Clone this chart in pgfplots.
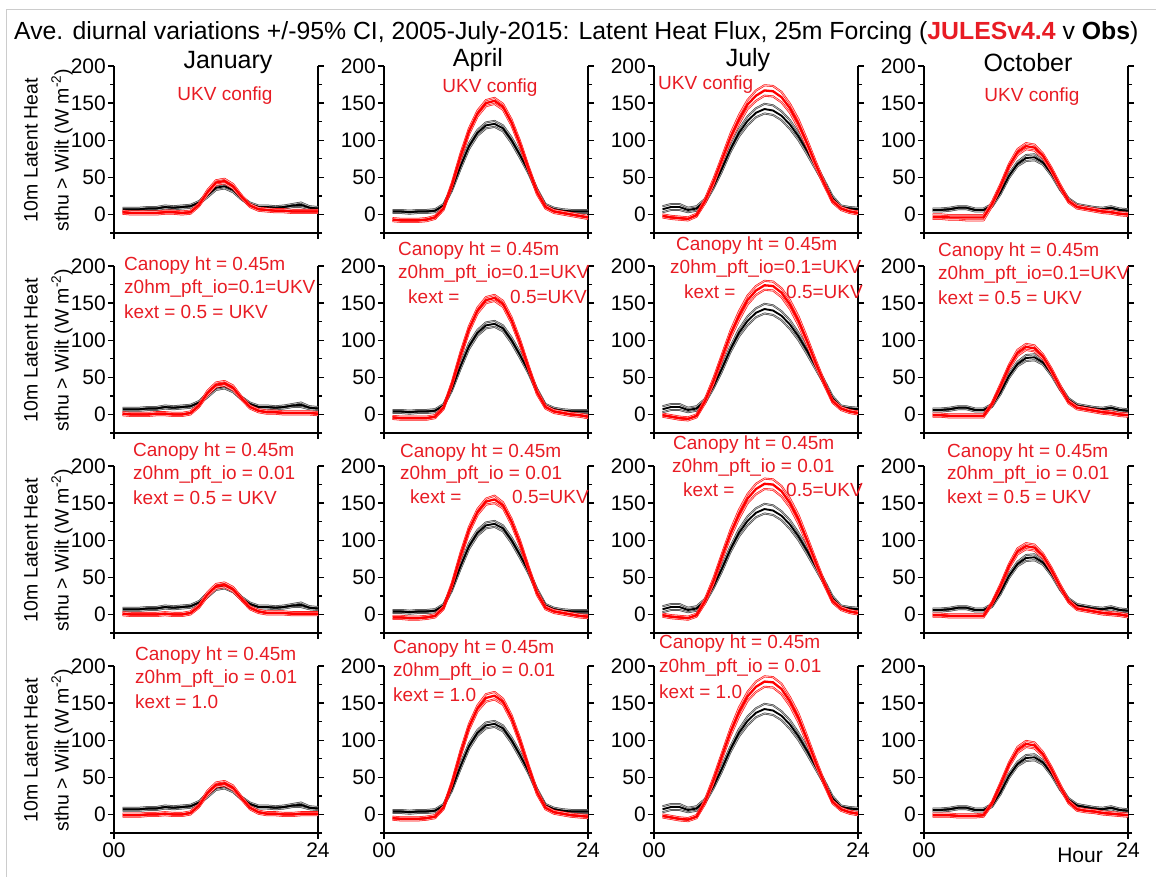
\documentclass[border=0pt]{standalone}
\usepackage{fontspec}
\setmainfont{Liberation Sans}
\usepackage{pgfplots}
\usepackage{pgfplotstable}
\pgfplotsset{compat=1.18}

\definecolor{modred}{RGB}{255,0,0}
\definecolor{txtred}{RGB}{232,28,36}

% Observed diurnal cycle (mean and 95% CI bounds), one table per month
\pgfplotstableread{
h o lo hi
1 7 5 9
2 7 5 9
3 7 5 9
4 8 6 10
5 8 6 10
6 10 8 12
7 9 7 11
8 10 8 12
9 11 9 13
10 16 14 18
11 26 23 29
12 36 33 39
13 38 35 41
14 33 30 36
15 22 20 24
16 14 12 16
17 10 8 12
18 10 8 12
19 9 7 11
20 10 8 12
21 12 10 14
22 13 10 16
23 9 7 11
24 8 6 10
}\janobs

\pgfplotstableread{
h o lo hi
1 4 2 6
2 4 2 6
3 3 1 5
4 4 2 6
5 4 2 6
6 5 3 7
7 12 10 14
8 35 32 38
9 65 61 69
10 92 88 96
11 110 106 114
12 120 116 124
13 122 118 126
14 116 112 120
15 100 96 104
16 80 76 84
17 58 55 61
18 32 29 35
19 12 10 14
20 7 5 9
21 5 3 7
22 4 2 6
23 4 2 6
24 4 2 6
}\aprobs

\pgfplotstableread{
h o lo hi
1 7 3 11
2 10 6 14
3 10 6 14
4 6 3 9
5 8 5 11
6 18 15 21
7 38 35 41
8 62 58 66
9 88 84 92
10 110 105 115
11 126 120 132
12 137 131 143
13 142 136 149
14 140 134 147
15 133 127 139
16 121 115 127
17 105 100 110
18 86 81 91
19 65 61 69
20 44 41 47
21 22 19 25
22 10 8 12
23 8 6 10
24 7 5 9
}\julobs

\pgfplotstableread{
h o lo hi
1 6 4 8
2 6 4 8
3 7 5 9
4 9 7 11
5 9 7 11
6 6 4 8
7 6 4 8
8 12 10 14
9 30 27 33
10 52 49 55
11 68 65 71
12 76 72 80
13 77 73 81
14 70 67 73
15 55 52 58
16 36 33 39
17 20 18 22
18 12 10 14
19 10 8 12
20 8 6 10
21 7 5 9
22 9 7 11
23 6 4 8
24 5 3 7
}\octobs

% JULES runs (mean and 95% CI bounds); suffix 1-4 = configuration (row)
\pgfplotstableread{
h m1 lo1 hi1 m2 lo2 hi2 m3 lo3 hi3 m4 lo4 hi4
1 3 1 5 1 -1 3 1 -1 3 -1 -3 1
2 2 0 4 0 -2 2 0 -2 2 -1 -3 1
3 2 0 4 0 -2 2 0 -2 2 -1 -3 1
4 2 0 4 0 -2 2 0 -2 2 0 -2 2
5 2 0 4 1 -1 3 0 -2 2 0 -2 2
6 3 1 5 1 -1 3 1 -1 3 1 -1 3
7 3 1 5 0 -2 2 0 -2 2 0 -2 2
8 2 0 4 0 -2 2 0 -2 2 0 -2 2
9 3 1 5 2 0 4 2 0 4 2 0 4
10 13 11 15 12 10 14 11 9 13 12 10 14
11 30 27 33 29 26 32 27 24 30 29 26 32
12 43 40 46 40 37 43 38 35 41 40 37 43
13 45 42 48 42 39 45 40 37 43 42 39 45
14 38 35 41 36 33 39 34 31 37 36 33 39
15 24 22 26 22 20 24 21 19 23 22 20 24
16 12 10 14 10 8 12 9 7 11 9 7 11
17 7 5 9 5 3 7 4 2 6 3 1 5
18 6 4 8 3 1 5 2 0 4 1 -1 3
19 5 3 7 3 1 5 2 0 4 1 -1 3
20 5 3 7 2 0 4 2 0 4 0 -2 2
21 4 2 6 2 0 4 1 -1 3 0 -2 2
22 4 2 6 2 0 4 1 -1 3 1 -1 3
23 4 2 6 2 0 4 1 -1 3 1 -1 3
24 4 2 6 1 -1 3 1 -1 3 1 -1 3
}\janmod

\pgfplotstableread{
h m1 lo1 hi1 m2 lo2 hi2 m3 lo3 hi3 m4 lo4 hi4
1 -7 -9 -5 -4 -6 -2 -4 -6 -2 -5 -7 -3
2 -8 -10 -6 -5 -7 -3 -4 -6 -2 -6 -8 -4
3 -8 -10 -6 -5 -7 -3 -5 -7 -3 -6 -8 -4
4 -8 -10 -6 -5 -7 -3 -5 -7 -3 -6 -8 -4
5 -7 -9 -5 -5 -7 -3 -4 -6 -2 -5 -7 -3
6 -4 -6 -2 -3 -5 -1 -2 -4 0 -3 -5 -1
7 8 6 10 9 7 11 9 7 11 9 7 11
8 40 37 43 41 38 44 40 37 43 42 39 45
9 78 74 82 80 76 84 79 75 83 82 78 86
10 112 108 116 115 111 119 114 110 118 118 114 122
11 136 132 140 140 136 144 138 134 142 143 139 147
12 150 146 154 154 150 158 152 148 156 157 152 162
13 153 149 157 157 153 161 155 150 160 160 155 165
14 145 141 149 149 145 153 147 143 151 152 148 156
15 124 120 128 127 123 131 125 121 129 130 126 134
16 95 91 99 97 93 101 96 92 100 99 95 103
17 62 59 65 63 60 66 62 59 65 64 61 67
18 30 27 33 30 27 33 29 26 32 30 27 33
19 10 8 12 10 8 12 9 7 11 9 7 11
20 4 2 6 4 2 6 4 2 6 3 1 5
21 2 0 4 2 0 4 2 0 4 1 -1 3
22 0 -2 2 0 -2 2 0 -2 2 -1 -3 1
23 -2 -4 0 -1 -3 1 -2 -4 0 -2 -4 0
24 -4 -6 -2 -3 -5 -1 -3 -5 -1 -3 -5 -1
}\aprmod

\pgfplotstableread{
h m1 lo1 hi1 m2 lo2 hi2 m3 lo3 hi3 m4 lo4 hi4
1 -2 -4 0 -1 -3 1 -1 -3 1 -2 -4 0
2 -4 -6 -2 -3 -5 -1 -3 -5 -1 -4 -6 -2
3 -5 -7 -3 -5 -7 -3 -4 -6 -2 -6 -8 -4
4 -6 -8 -4 -6 -8 -4 -5 -7 -3 -7 -9 -5
5 -1 -3 1 -2 -4 0 -1 -3 1 -3 -5 -1
6 18 15 21 18 15 21 18 15 21 17 14 20
7 44 40 48 45 41 49 45 41 49 46 42 50
8 74 70 78 77 73 81 78 74 82 79 75 83
9 104 99 109 108 103 113 109 104 114 111 106 116
10 128 122 134 133 127 139 135 129 141 138 132 144
11 148 142 154 154 148 160 156 150 162 159 153 165
12 160 153 167 167 161 173 169 162 176 172 165 179
13 167 160 174 174 168 180 176 169 183 179 172 186
14 166 159 173 173 167 179 175 168 182 178 171 185
15 158 151 165 164 158 170 166 159 173 169 162 176
16 143 137 149 148 142 154 150 144 156 152 146 158
17 122 116 128 126 120 132 128 122 134 130 124 136
18 96 91 101 99 94 104 100 95 105 101 96 106
19 68 64 72 70 66 74 71 67 75 71 67 75
20 42 39 45 43 40 46 43 40 46 43 40 46
21 18 16 20 18 16 20 18 16 20 17 15 19
22 8 6 10 8 6 10 8 6 10 7 5 9
23 4 2 6 4 2 6 4 2 6 3 1 5
24 2 0 4 2 0 4 2 0 4 1 -1 3
}\julmod

\pgfplotstableread{
h m1 lo1 hi1 m2 lo2 hi2 m3 lo3 hi3 m4 lo4 hi4
1 -3 -6 0 -1 -3 1 -1 -3 1 -1 -3 1
2 -3 -6 0 -1 -3 1 -1 -3 1 -1 -3 1
3 -4 -7 -1 -2 -4 0 -2 -4 0 -1 -3 1
4 -4 -7 -1 -2 -4 0 -2 -4 0 -2 -4 0
5 -4 -8 -1 -2 -4 0 -2 -4 0 -2 -4 0
6 -4 -8 -1 -2 -4 0 -2 -4 0 -2 -4 0
7 -4 -8 -1 -2 -4 0 -2 -4 0 -1 -3 1
8 14 11 17 14 12 16 15 13 17 15 13 17
9 38 35 41 38 35 41 38 35 41 40 37 43
10 65 62 68 64 61 67 65 62 68 67 64 70
11 84 80 88 83 79 87 85 81 89 87 83 91
12 92 88 96 91 87 95 92 88 96 95 91 99
13 90 86 94 89 85 93 90 86 94 93 89 97
14 79 76 82 78 75 81 79 76 82 81 78 84
15 60 57 63 59 56 62 60 57 63 61 58 64
16 38 35 41 37 34 40 38 35 41 38 35 41
17 18 16 20 17 15 19 18 16 20 17 15 19
18 10 8 12 9 7 11 8 6 10 7 5 9
19 8 6 10 7 5 9 6 4 8 5 3 7
20 6 4 8 5 3 7 4 2 6 4 2 6
21 4 2 6 3 1 5 2 0 4 2 0 4
22 3 1 5 2 0 4 1 -1 3 1 -1 3
23 1 -1 3 0 -2 2 0 -2 2 0 -2 2
24 0 -2 2 -1 -3 1 -2 -4 0 -1 -3 1
}\octmod

\pgfplotsset{
  panel/.style={
    scale only axis, width=204pt, height=167pt,
    anchor=south west,
    xmin=0, xmax=24, ymin=-25, ymax=200,
    axis x line*=bottom, axis y line*=box,
    ytick={0,50,100,150,200},
    minor ytick={-25,25,75,125,175},
    xtick={0,24},
    tick align=outside,
    major tick length=6pt, minor tick length=4pt,
    yticklabel pos=left,
    axis line style={line width=1.4pt},
    every tick/.style={black, line width=1.3pt},
    /pgf/number format/assume math mode=true,
    ticklabel style={font=\fontsize{21}{23}\selectfont},
    yticklabel style={inner xsep=2pt},
    clip=false,
  },
  obsci/.style={draw=black!80, double=black!30, line width=0.5pt,
    double distance=0.9pt, line join=round, no marks},
  obsmean/.style={black, line width=1.9pt, line join=round, no marks},
  modci/.style={draw=modred, double=modred!30, line width=0.55pt,
    double distance=0.9pt, line join=round, no marks},
  modmean/.style={modred, line width=2.3pt, line join=round, no marks},
}

% #1 left, #2 bottom, #3 obs table, #4 model table, #5 config, #6 extra options
\newcommand{\panel}[6]{%
  \begin{axis}[panel, at={(#1pt,#2pt)}, #6]
    \addplot[obsci] table[x=h,y=lo]{#3};
    \addplot[obsci] table[x=h,y=hi]{#3};
    \addplot[obsmean] table[x=h,y=o]{#3};
    \addplot[modci] table[x=h,y=lo#5]{#4};
    \addplot[modci] table[x=h,y=hi#5]{#4};
    \addplot[modmean] table[x=h,y=m#5]{#4};
  \end{axis}}

\newcommand{\nolab}{xticklabels={,}}
\newcommand{\hrlab}{xticklabels={00,24}}

\begin{document}
\begin{tikzpicture}
\useasboundingbox (0pt,0pt) rectangle (1156pt,877pt);
\draw[black!20, line width=1pt] (6pt,0pt) -- (6pt,867pt) -- (1156pt,867pt);

% row 1: UKV configuration
\panel{114}{644}{\janobs}{\janmod}{1}{\nolab}
\panel{384}{644}{\aprobs}{\aprmod}{1}{\nolab}
\panel{654}{644}{\julobs}{\julmod}{1}{\nolab}
\panel{924}{644}{\octobs}{\octmod}{1}{\nolab}
% row 2
\panel{114}{444}{\janobs}{\janmod}{2}{\nolab}
\panel{384}{444}{\aprobs}{\aprmod}{2}{\nolab}
\panel{654}{444}{\julobs}{\julmod}{2}{\nolab}
\panel{924}{444}{\octobs}{\octmod}{2}{\nolab}
% row 3
\panel{114}{244}{\janobs}{\janmod}{3}{\nolab}
\panel{384}{244}{\aprobs}{\aprmod}{3}{\nolab}
\panel{654}{244}{\julobs}{\julmod}{3}{\nolab}
\panel{924}{244}{\octobs}{\octmod}{3}{\nolab}
% row 4
\panel{114}{44}{\janobs}{\janmod}{4}{\hrlab}
\panel{384}{44}{\aprobs}{\aprmod}{4}{\hrlab}
\panel{654}{44}{\julobs}{\julmod}{4}{\hrlab}
\panel{924}{44}{\octobs}{\octmod}{4}{\hrlab}

\begin{scope}[x=1pt, y=1pt,
  ann/.style={text=txtred, inner sep=0pt, font=\fontsize{19}{22}\selectfont},
  mon/.style={inner sep=0pt, font=\fontsize{25}{28}\selectfont},
  ylab/.style={rotate=90, inner sep=0pt, font=\fontsize{19.5}{22}\selectfont}]
  % title
  \node[anchor=west, inner sep=0pt, font=\fontsize{24.8}{28}\selectfont] at (14,844)
    {Ave. diurnal variations +/-95\% CI, 2005-July-2015: Latent Heat Flux, 25m Forcing (\textcolor{txtred}{\textbf{JULESv4.4}} v \textbf{Obs})};
  % y axis title, one pair per row
  \foreach \yc in {727,527,327,127} {
    \node[ylab] at (31,\yc) {10m Latent Heat};
    \node[ylab] at (62,\yc) {sthu > Wilt (W m\textsuperscript{-2})};
  }
  % month titles
  \node[mon] at (228,814) {January};
  \node[mon] at (478,817) {April};
  \node[mon] at (748,817) {July};
  \node[mon] at (1028,814) {October};
  % row 1 labels
  \node[ann] at (225,781) {UKV config};
  \node[ann] at (490,789) {UKV config};
  \node[ann, anchor=west] at (658,792) {UKV config};
  \node[ann] at (1032,780) {UKV config};
  % row 2 labels
  \node[ann, anchor=west] at (124,611) {Canopy ht = 0.45m};
  \node[ann, anchor=west] at (124,588) {z0hm\_pft\_io=0.1=UKV};
  \node[ann, anchor=west] at (124,565) {kext = 0.5 = UKV};
  \node[ann, anchor=west] at (398,626) {Canopy ht = 0.45m};
  \node[ann, anchor=west] at (398,603) {z0hm\_pft\_io=0.1=UKV};
  \node[ann, anchor=west] at (408,580) {kext =};
  \node[ann, anchor=west] at (510,580) {0.5=UKV};
  \node[ann, anchor=west] at (676,631) {Canopy ht = 0.45m};
  \node[ann, anchor=west] at (670,608) {z0hm\_pft\_io=0.1=UKV};
  \node[ann, anchor=west] at (684,585) {kext =};
  \node[ann, anchor=west] at (786,585) {0.5=UKV};
  \node[ann, anchor=west] at (938,625) {Canopy ht = 0.45m};
  \node[ann, anchor=west] at (938,602) {z0hm\_pft\_io=0.1=UKV};
  \node[ann, anchor=west] at (938,579) {kext = 0.5 = UKV};
  % row 3 labels
  \node[ann, anchor=west] at (133,425) {Canopy ht = 0.45m};
  \node[ann, anchor=west] at (133,402) {z0hm\_pft\_io = 0.01};
  \node[ann, anchor=west] at (133,379) {kext = 0.5 = UKV};
  \node[ann, anchor=west] at (400,424) {Canopy ht = 0.45m};
  \node[ann, anchor=west] at (400,402) {z0hm\_pft\_io = 0.01};
  \node[ann, anchor=west] at (410,380) {kext =};
  \node[ann, anchor=west] at (512,380) {0.5=UKV};
  \node[ann, anchor=west] at (673,432) {Canopy ht = 0.45m};
  \node[ann, anchor=west] at (672,409) {z0hm\_pft\_io = 0.01};
  \node[ann, anchor=west] at (683,387) {kext =};
  \node[ann, anchor=west] at (786,387) {0.5=UKV};
  \node[ann, anchor=west] at (947,424) {Canopy ht = 0.45m};
  \node[ann, anchor=west] at (947,402) {z0hm\_pft\_io = 0.01};
  \node[ann, anchor=west] at (947,380) {kext = 0.5 = UKV};
  % row 4 labels
  \node[ann, anchor=west] at (135,221) {Canopy ht = 0.45m};
  \node[ann, anchor=west] at (135,198) {z0hm\_pft\_io = 0.01};
  \node[ann, anchor=west] at (135,175) {kext = 1.0};
  \node[ann, anchor=west] at (393,228) {Canopy ht = 0.45m};
  \node[ann, anchor=west] at (393,205) {z0hm\_pft\_io = 0.01};
  \node[ann, anchor=west] at (393,182) {kext = 1.0};
  \node[ann, anchor=west] at (659,233) {Canopy ht = 0.45m};
  \node[ann, anchor=west] at (659,209) {z0hm\_pft\_io = 0.01};
  \node[ann, anchor=west] at (659,185) {kext = 1.0};
  % x axis name, bottom right
  \node[anchor=east, inner sep=0pt, font=\fontsize{21}{23}\selectfont] at (1103,22) {Hour};
\end{scope}
\end{tikzpicture}
\end{document}
